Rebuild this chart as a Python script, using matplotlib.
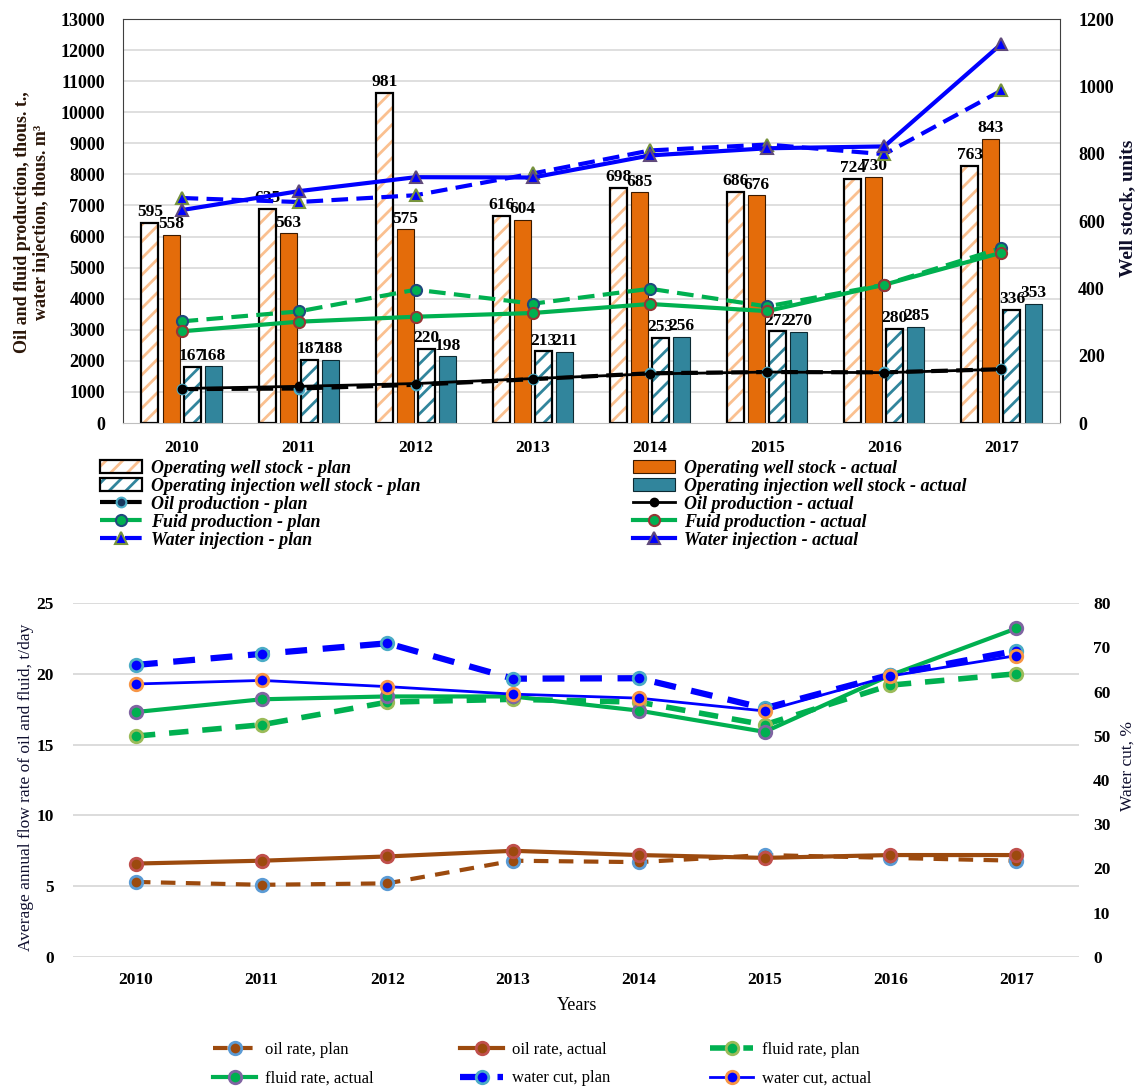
import matplotlib
matplotlib.use("Agg")
import matplotlib.pyplot as plt
import numpy as np

plt.rcParams["font.family"] = ["Liberation Serif", "DejaVu Serif"]
plt.rcParams["hatch.linewidth"] = 2.0

years = ["2010", "2011", "2012", "2013", "2014", "2015", "2016", "2017"]

# well stock, units (right scale of the upper chart)
stock_plan = [595, 635, 981, 616, 698, 686, 724, 763]
stock_actual = [558, 563, 575, 604, 685, 676, 730, 843]
inj_stock_plan = [167, 187, 220, 213, 253, 272, 280, 336]
inj_stock_actual = [168, 188, 198, 211, 256, 270, 285, 353]

# production and injection, thous. t / thous. m3 (left scale)
oil_prod_plan = [1090, 1110, 1230, 1410, 1600, 1640, 1630, 1730]
oil_prod_actual = [1110, 1180, 1270, 1430, 1580, 1640, 1620, 1730]
fluid_prod_plan = [3270, 3590, 4290, 3840, 4320, 3750, 4450, 5630]
fluid_prod_actual = [2950, 3260, 3420, 3540, 3830, 3600, 4450, 5480]
water_inj_plan = [7240, 7110, 7330, 8030, 8770, 8960, 8650, 10700]
water_inj_actual = [6850, 7460, 7910, 7900, 8610, 8840, 8900, 12200]

# average rates, t/day, and water cut, %
oil_rate_plan = [5.3, 5.1, 5.2, 6.8, 6.7, 7.2, 7.0, 6.8]
oil_rate_actual = [6.6, 6.8, 7.1, 7.5, 7.2, 7.0, 7.2, 7.2]
fluid_rate_plan = [15.6, 16.4, 18.0, 18.2, 18.0, 16.4, 19.2, 20.0]
fluid_rate_actual = [17.3, 18.2, 18.4, 18.4, 17.4, 15.9, 19.9, 23.2]
water_cut_plan = [66.0, 68.5, 70.9, 62.9, 63.0, 56.2, 63.8, 69.2]
water_cut_actual = [61.7, 62.5, 61.1, 59.4, 58.5, 55.6, 63.5, 68.1]

W, H = 1137, 1092
fig = plt.figure(figsize=(W / 100, H / 100), dpi=100)


def px_rect(x0, y0, x1, y1):
    return [x0 / W, 1 - y1 / H, (x1 - x0) / W, (y1 - y0) / H]


ORANGE = "#E46C0A"
ORANGE_LT = "#FAC090"
TEAL = "#31859C"
GREEN = "#00B050"
BLUE = "#0000FF"
BROWN = "#9C4A0E"
GRID = "#D9D9D9"

# ---------------- upper chart ----------------
x = np.arange(len(years))
bw = 0.145
offs = [-0.27, -0.09, 0.09, 0.27]

ax = fig.add_axes(px_rect(123, 19, 1060, 423))
ax.set_xlim(-0.5, 7.5)
ax.set_ylim(0, 1200)


def hatched(pos, vals, col):
    fill = ax.bar(pos, vals, bw, color="white", edgecolor=col, hatch="//", linewidth=0)
    edge = ax.bar(pos, vals, bw, fill=False, edgecolor="black", linewidth=1.6)
    return fill, edge


sp_fill, sp_edge = hatched(x + offs[0], stock_plan, ORANGE_LT)
sa = ax.bar(x + offs[1], stock_actual, bw, color=ORANGE, edgecolor="#3a1a00", linewidth=0.8)
ip_fill, ip_edge = hatched(x + offs[2], inj_stock_plan, TEAL)
ia = ax.bar(x + offs[3], inj_stock_actual, bw, color=TEAL, edgecolor="#0d2a33", linewidth=0.8)

for cont in (sp_edge, sa, ip_edge, ia):
    ax.bar_label(cont, padding=2, fontsize=12.5, fontweight="bold")

# lines go on a twin axis that carries the left scale; bars keep the right one
ax2 = ax.twinx()
ax.yaxis.tick_right()
ax.yaxis.set_label_position("right")
ax2.yaxis.tick_left()
ax2.yaxis.set_label_position("left")

ax.set_yticks(range(0, 1201, 200))
ax.set_yticks(np.arange(0, 13001, 1000) * 1200 / 13000, minor=True)
ax.grid(which="minor", axis="y", color=GRID, lw=1.2)
ax.set_axisbelow(True)
ax.set_xticks(x)
ax.set_xticklabels(years)
ax.tick_params(axis="both", which="both", length=0)
ax.tick_params(axis="x", pad=12, labelsize=12.5)
ax.tick_params(axis="y", which="major", pad=13, labelsize=13,
               left=False, labelleft=False, right=False, labelright=True)
ax.tick_params(axis="y", which="minor", labelleft=False, labelright=False)
for lab in ax.get_xticklabels() + ax.get_yticklabels():
    lab.set_fontweight("bold")
for side in ("left", "top", "right"):
    ax.spines[side].set_color("#404040")
ax.spines["bottom"].set_color("#BFBFBF")

ax2.set_ylim(0, 13000)
ax2.set_yticks(range(0, 13001, 1000))
ax2.tick_params(axis="y", length=0, pad=13, labelsize=13,
                labelleft=True, labelright=False)
for lab in ax2.get_yticklabels():
    lab.set_fontweight("bold")
for s in ax2.spines.values():
    s.set_visible(False)

dash = (4, 2)
op, = ax2.plot(x, oil_prod_plan, color="black", lw=3, ls="--", dashes=dash,
               marker="o", ms=7, mfc="#17375E", mec="#4BACC6", mew=1.5)
oa, = ax2.plot(x, oil_prod_actual, color="black", lw=2, marker="o", ms=6,
               mfc="black", mec="black")
fp, = ax2.plot(x, fluid_prod_plan, color=GREEN, lw=3, ls="--", dashes=dash,
               marker="o", ms=8, mfc=GREEN, mec="#1F497D", mew=1.5)
fa, = ax2.plot(x, fluid_prod_actual, color=GREEN, lw=3, marker="o", ms=8,
               mfc=GREEN, mec="#953735", mew=1.5)
wp, = ax2.plot(x, water_inj_plan, color=BLUE, lw=3, ls="--", dashes=dash,
               marker="^", ms=8, mfc=BLUE, mec="#77933C", mew=1.5)
wa, = ax2.plot(x, water_inj_actual, color=BLUE, lw=3, marker="^", ms=8,
               mfc=BLUE, mec="#604A7B", mew=1.5)

fig.text(32 / W, 1 - 222 / H,
         "Oil and fluid production, thous. t.,\nwater injection, thous. m³",
         rotation=90, ha="center", va="center", fontsize=13, fontweight="bold",
         color="#2B1608", linespacing=1.1)
fig.text(1128 / W, 1 - 208 / H, "Well stock, units", rotation=90,
         ha="center", va="center", fontsize=14, fontweight="bold", color="#0F0F2A")

leg_kw = dict(frameon=False, loc="upper left", handlelength=2.3, handleheight=0.7,
              labelspacing=0.05, handletextpad=0.5, borderpad=0, borderaxespad=0,
              prop=dict(family="Liberation Serif", weight="bold", style="italic", size=13))
fig.legend([(sp_fill[0], sp_edge[0]), (ip_fill[0], ip_edge[0]), op, fp, wp],
           ["Operating well stock - plan", "Operating injection well stock - plan",
            "Oil production - plan", "Fuid production - plan", "Water injection - plan"],
           bbox_to_anchor=(100 / W, 1 - 460 / H), **leg_kw)
fig.legend([sa[0], ia[0], oa, fa, wa],
           ["Operating well stock - actual", "Operating injection well stock - actual",
            "Oil production - actual", "Fuid production - actual", "Water injection - actual"],
           bbox_to_anchor=(633 / W, 1 - 460 / H), **leg_kw)

# ---------------- lower chart ----------------
bx = fig.add_axes(px_rect(73, 603, 1079, 957))
bx.set_xlim(-0.5, 7.5)
bx.set_ylim(0, 25)
bx.set_yticks(range(0, 26, 5))
bx.set_xticks(x)
bx.set_xticklabels(years)
bx.grid(axis="y", color=GRID, lw=1.3)
bx.set_axisbelow(True)
for s in bx.spines.values():
    s.set_visible(False)
bx.tick_params(axis="both", length=0, labelsize=12.5)
bx.tick_params(axis="x", pad=11)
bx.tick_params(axis="y", pad=14)
for lab in bx.get_xticklabels() + bx.get_yticklabels():
    lab.set_fontweight("bold")

bdash = (3.5, 2.5)
lp, = bx.plot(x, oil_rate_plan, color=BROWN, lw=3, ls="--", dashes=bdash,
              marker="o", ms=9, mfc=BROWN, mec="#5B9BD5", mew=2)
la, = bx.plot(x, oil_rate_actual, color=BROWN, lw=3, marker="o", ms=9,
              mfc=BROWN, mec="#C0504D", mew=2)
gp, = bx.plot(x, fluid_rate_plan, color=GREEN, lw=4, ls="--", dashes=bdash,
              marker="o", ms=9, mfc=GREEN, mec="#9BBB59", mew=2)
ga, = bx.plot(x, fluid_rate_actual, color=GREEN, lw=3, marker="o", ms=9,
              mfc=GREEN, mec="#8064A2", mew=2)

bx2 = bx.twinx()
bx2.set_ylim(0, 80)
bx2.set_yticks(range(0, 81, 10))
for s in bx2.spines.values():
    s.set_visible(False)
bx2.tick_params(axis="y", length=0, labelsize=12.5, pad=10)
for lab in bx2.get_yticklabels():
    lab.set_fontweight("bold")
cp, = bx2.plot(x, water_cut_plan, color=BLUE, lw=4.5, ls="--", dashes=bdash,
               marker="o", ms=9, mfc=BLUE, mec="#4BACC6", mew=2)
ca, = bx2.plot(x, water_cut_actual, color=BLUE, lw=2, marker="o", ms=9,
               mfc=BLUE, mec="#F79646", mew=2)

fig.text(26 / W, 1 - 787 / H, "Average annual flow rate of oil and fluid, t/day",
         rotation=90, ha="center", va="center", fontsize=12.5, color="#101030")
fig.text(1128 / W, 1 - 766 / H, "Water cut, %", rotation=90,
         ha="center", va="center", fontsize=12.5, color="#101030")
fig.text(577 / W, 1 - 1005 / H, "Years", ha="center", va="center", fontsize=13)

bleg_kw = dict(frameon=False, loc="upper left", handlelength=2.6, labelspacing=0.75,
               handletextpad=0.5, borderpad=0, borderaxespad=0,
               prop=dict(family="Liberation Serif", size=12))
fig.legend([lp, ga], ["oil rate, plan", "fluid rate, actual"],
           bbox_to_anchor=(213 / W, 1 - 1042 / H), **bleg_kw)
fig.legend([la, cp], ["oil rate, actual", "water cut, plan"],
           bbox_to_anchor=(460 / W, 1 - 1042 / H), **bleg_kw)
fig.legend([gp, ca], ["fluid rate, plan", "water cut, actual"],
           bbox_to_anchor=(710 / W, 1 - 1042 / H), **bleg_kw)

fig.savefig("out.png", dpi=100)
